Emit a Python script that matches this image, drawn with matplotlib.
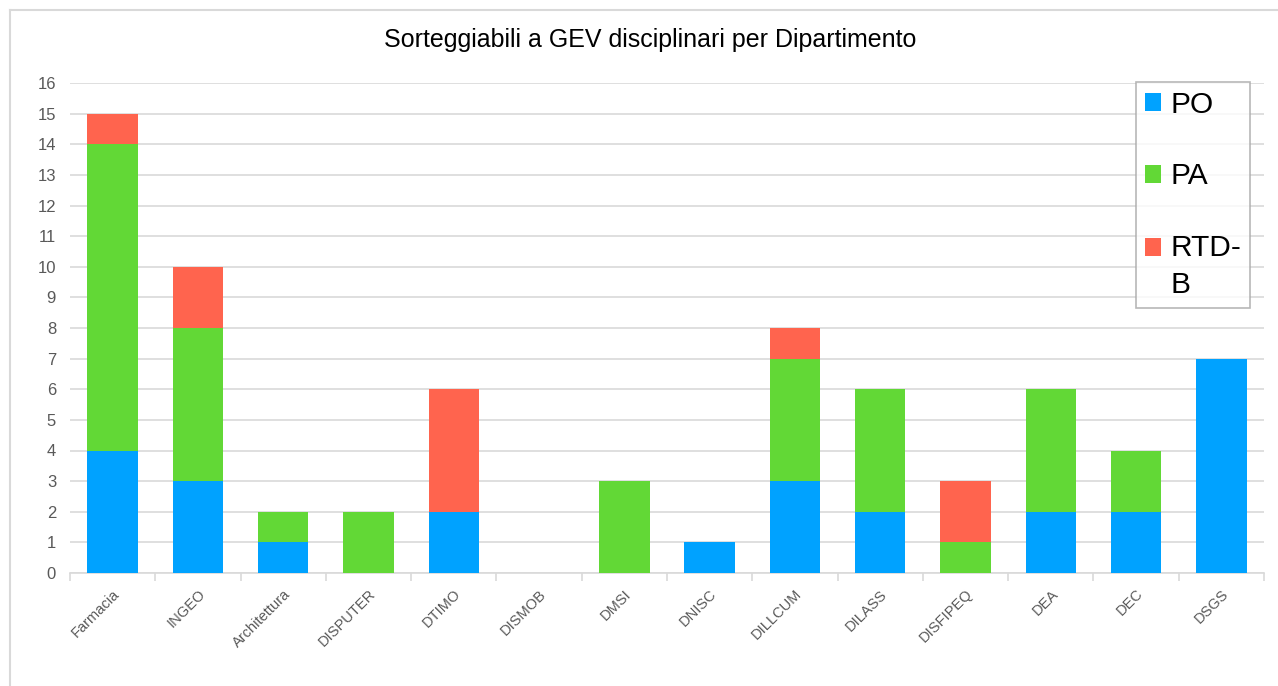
import matplotlib.pyplot as plt
from matplotlib.lines import Line2D
from matplotlib.patches import Rectangle
from matplotlib.legend_handler import HandlerPatch

plt.rcParams['font.family'] = ['Liberation Sans', 'DejaVu Sans']

departments = ["Farmacia", "INGEO", "Architettura", "DISPUTER", "DTIMO", "DISMOB",
               "DMSI", "DNISC", "DILLCUM", "DILASS", "DISFIPEQ", "DEA", "DEC", "DSGS"]
po = [4, 3, 1, 0, 2, 0, 0, 1, 3, 2, 0, 2, 2, 7]
pa = [10, 5, 1, 2, 0, 0, 3, 0, 4, 4, 1, 4, 2, 0]
rtdb = [1, 2, 0, 0, 4, 0, 0, 0, 1, 0, 2, 0, 0, 0]
series_names = ["PO", "PA", "RTD-\nB"]

blue = "#00A2FF"
green = "#62D836"
red = "#FF644E"

W, H = 1278, 686
fig = plt.figure(figsize=(W / 100, H / 100), dpi=100)
ax = fig.add_axes([70 / W, 1 - 573 / H, (1264 - 70) / W, (573 - 83) / H])

x = range(len(departments))
w = 0.59
bottom2 = [a + b for a, b in zip(po, pa)]
b1 = ax.bar(x, po, w, color=blue, zorder=3)
b2 = ax.bar(x, pa, w, bottom=po, color=green, zorder=3)
b3 = ax.bar(x, rtdb, w, bottom=bottom2, color=red, zorder=3)

ax.set_xlim(-0.5, len(departments) - 0.5)
ax.set_ylim(0, 16)
ax.set_yticks(range(0, 17))
ax.grid(axis='y', color="#D9D9D9", linewidth=1.2, zorder=0)
for s in ["top", "right", "left"]:
    ax.spines[s].set_visible(False)
ax.spines["bottom"].set_color("#D9D9D9")
ax.spines["bottom"].set_linewidth(1.2)

ax.set_xticks([i - 0.5 for i in range(len(departments) + 1)], minor=True)
ax.set_xticks(list(x))
ax.set_xticklabels(departments, rotation=45, ha="right", rotation_mode="anchor",
                   fontsize=10.5, color="#595959")
ax.tick_params(axis='x', which='major', length=0, pad=10)
ax.tick_params(axis='x', which='minor', length=6, color="#D9D9D9", width=1.2)
ax.tick_params(axis='y', length=0, pad=10, labelsize=12, labelcolor="#595959")

fig.text(0.5 * (380 + 920) / W, 1 - 47 / H,
         "Sorteggiabili a GEV disciplinari per Dipartimento",
         fontsize=18, ha="center", va="baseline", color="#000000")


# square marker aligned with the first line of a two-line label
def top_square(legend, orig_handle, xdescent, ydescent, width, height, fontsize):
    return Rectangle((-xdescent, -ydescent + 0.68 * fontsize), width, height)


handles = [b1.patches[0], b2.patches[0], b3.patches[0]]
leg = ax.legend(handles, series_names, loc="upper left",
                bbox_to_anchor=(1136 / W, 1 - 82 / H),
                bbox_transform=fig.transFigure, fontsize=21.5, frameon=True,
                fancybox=False, edgecolor="#A6A6A6", handlelength=0.55,
                handleheight=0.55, handletextpad=0.3, labelspacing=1.45,
                borderpad=0.3, borderaxespad=0,
                handler_map={b3.patches[0]: HandlerPatch(patch_func=top_square)})
leg.get_frame().set_linewidth(1.2)
for t in leg.get_texts():
    t.set_linespacing(1.45)

# chart area border (top and left edges visible)
fig.add_artist(Line2D([10 / W, 1], [1 - 10 / H, 1 - 10 / H], transform=fig.transFigure,
                      color="#D9D9D9", linewidth=1.5))
fig.add_artist(Line2D([10 / W, 10 / W], [0, 1 - 10 / H], transform=fig.transFigure,
                      color="#D9D9D9", linewidth=1.5))

fig.savefig("out.png", dpi=100)
